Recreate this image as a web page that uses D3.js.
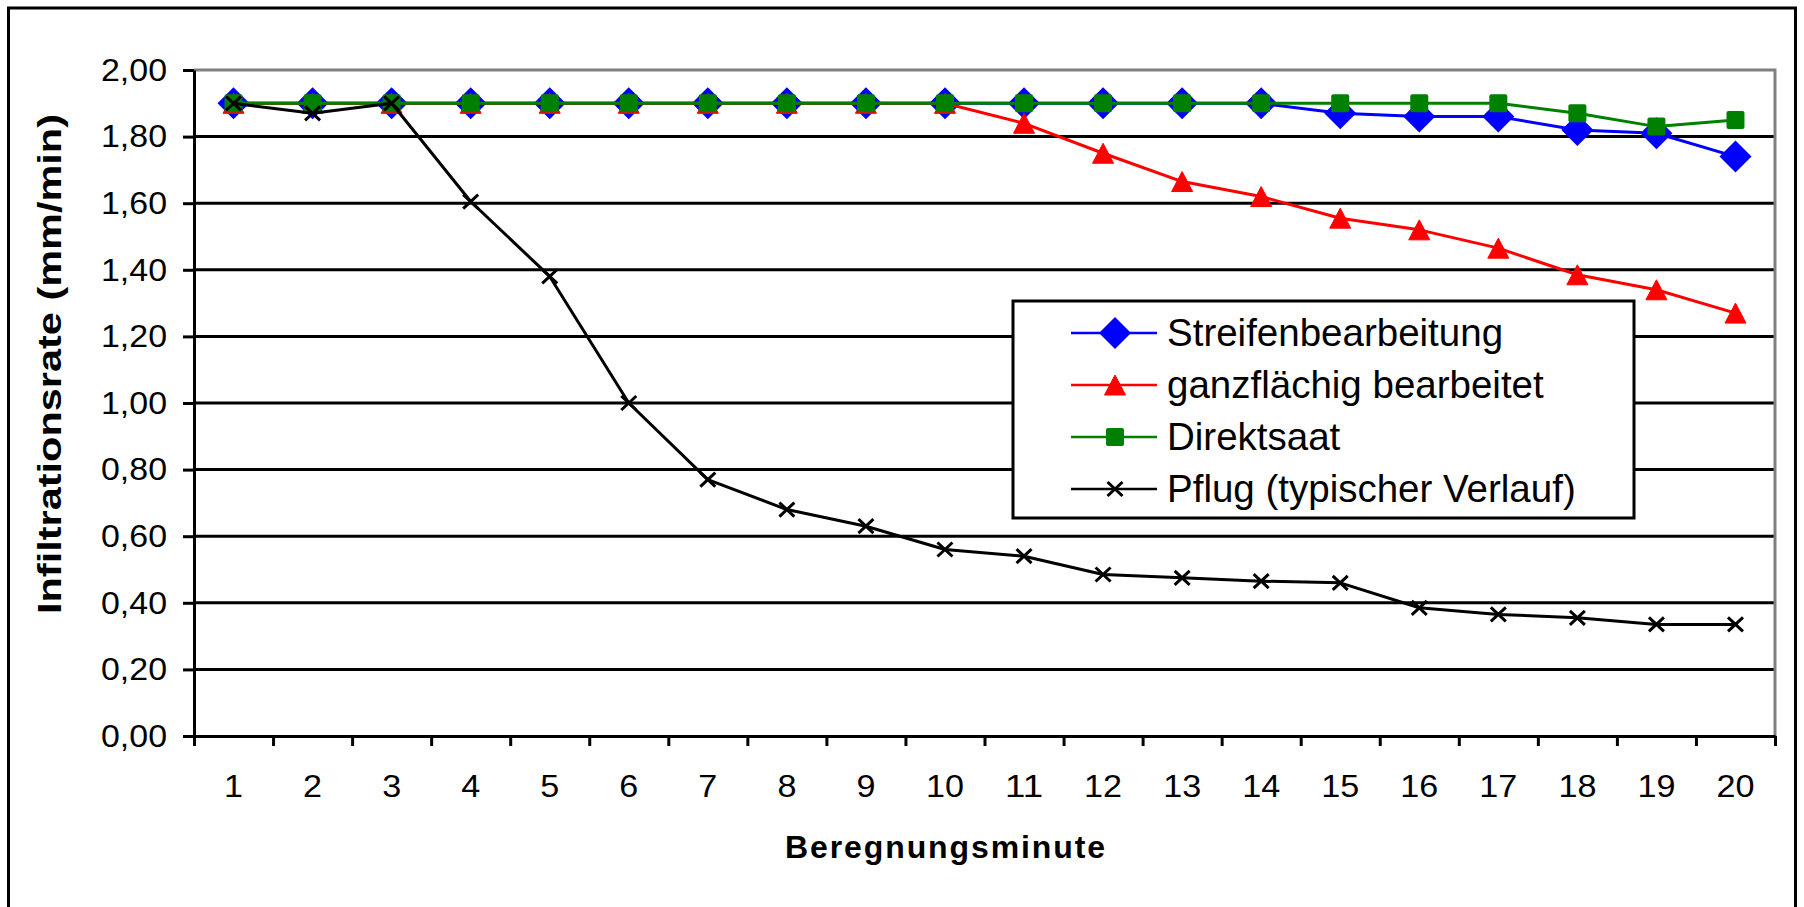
<!DOCTYPE html>
<html>
<head>
<meta charset="utf-8">
<script src="https://cdn.jsdelivr.net/npm/d3@7"></script>
<style>
    body { margin: 0; background: #fff; }
    svg { display: block; font-family: "Liberation Sans", Arial, sans-serif; }
</style>
</head>
<body>
<svg id="chart" width="1804" height="907" viewBox="0 0 1804 907"></svg>
<script>
// Data
const minutes = [1, 2, 3, 4, 5, 6, 7, 8, 9, 10, 11, 12, 13, 14, 15, 16, 17, 18, 19, 20];
const streifen = [1.90, 1.90, 1.90, 1.90, 1.90, 1.90, 1.90, 1.90, 1.90, 1.90, 1.90, 1.90, 1.90, 1.90, 1.87, 1.86, 1.86, 1.82, 1.81, 1.74];
const ganzflaechig = [1.90, 1.90, 1.90, 1.90, 1.90, 1.90, 1.90, 1.90, 1.90, 1.90, 1.84, 1.75, 1.665, 1.62, 1.555, 1.52, 1.465, 1.385, 1.34, 1.27];
const direktsaat = [1.90, 1.90, 1.90, 1.90, 1.90, 1.90, 1.90, 1.90, 1.90, 1.90, 1.90, 1.90, 1.90, 1.90, 1.90, 1.90, 1.90, 1.87, 1.83, 1.85];
const pflug = [1.90, 1.87, 1.90, 1.605, 1.38, 1.00, 0.77, 0.68, 0.63, 0.56, 0.54, 0.485, 0.475, 0.465, 0.46, 0.385, 0.365, 0.355, 0.335, 0.335];
const seriesNames = ["Streifenbearbeitung", "ganzflächig bearbeitet", "Direktsaat", "Pflug (typischer Verlauf)"];
const yTicks = [0, 0.2, 0.4, 0.6, 0.8, 1.0, 1.2, 1.4, 1.6, 1.8, 2.0];

const series = [
    { name: seriesNames[0], values: streifen, color: "#0000ff", marker: "diamond" },
    { name: seriesNames[1], values: ganzflaechig, color: "#ff0000", marker: "triangle" },
    { name: seriesNames[2], values: direktsaat, color: "#008000", marker: "square" },
    { name: seriesNames[3], values: pflug, color: "#000000", marker: "cross" }
];

const svg = d3.select("#chart");
const font = 32;

// Plot area
const plotLeft = 194, plotRight = 1775, plotTop = 70, plotBottom = 736;

const x = d3.scaleLinear().domain([0.5, 20.5]).range([plotLeft, plotRight]);
const y = d3.scaleLinear().domain([0, 2]).range([plotBottom, plotTop]);

// Outer frame
svg.append("rect")
    .attr("x", 8.5).attr("y", 8).attr("width", 1787).attr("height", 930)
    .attr("fill", "white").attr("stroke", "black").attr("stroke-width", 3);

// Grid lines
svg.append("g").selectAll("line")
    .data(yTicks.filter(d => d > 0 && d < 2))
    .enter().append("line")
    .attr("x1", plotLeft).attr("x2", plotRight)
    .attr("y1", d => y(d)).attr("y2", d => y(d))
    .attr("stroke", "black").attr("stroke-width", 3);

// Plot area border (top + right, grey)
svg.append("path")
    .attr("d", "M" + plotLeft + "," + y(2) + "H" + plotRight + "V" + y(0))
    .attr("fill", "none").attr("stroke", "#808080").attr("stroke-width", 3);

// Y axis
const yAxis = svg.append("g")
    .attr("transform", "translate(" + plotLeft + ",0)")
    .call(d3.axisLeft(y).tickValues(yTicks).tickSize(11).tickSizeOuter(0).tickPadding(16)
        .tickFormat(d => d.toFixed(2).replace(".", ",")));
yAxis.selectAll("line, path").attr("stroke", "black").attr("stroke-width", 3);
yAxis.selectAll("text").attr("font-size", font).attr("fill", "black")
    .attr("font-family", "Liberation Sans, Arial, sans-serif")
    .attr("textLength", 66).attr("lengthAdjust", "spacingAndGlyphs");

// X axis (ticks between categories)
const xAxis = svg.append("g")
    .attr("transform", "translate(0," + plotBottom + ")")
    .call(d3.axisBottom(x).tickValues(d3.range(0.5, 21, 1)).tickSize(10).tickSizeOuter(0).tickFormat(""));
xAxis.selectAll("line, path").attr("stroke", "black").attr("stroke-width", 3);

svg.append("g").selectAll("text")
    .data(minutes)
    .enter().append("text")
    .attr("x", d => x(d)).attr("y", 797)
    .attr("text-anchor", "middle")
    .attr("font-size", font)
    .attr("textLength", d => String(d).length * 19)
    .attr("lengthAdjust", "spacingAndGlyphs")
    .text(d => d);

// Axis titles
svg.append("text")
    .attr("x", 946).attr("y", 858)
    .attr("text-anchor", "middle")
    .attr("font-size", 32).attr("font-weight", "bold")
    .attr("letter-spacing", 1.9)
    .text("Beregnungsminute");

svg.append("text")
    .attr("transform", "translate(61,364) rotate(-90)")
    .attr("text-anchor", "middle")
    .attr("font-size", 33).attr("font-weight", "bold")
    .attr("textLength", 500).attr("lengthAdjust", "spacingAndGlyphs")
    .text("Infiltrationsrate (mm/min)");

// Markers
function drawMarker(g, type, color, cx, cy) {
    switch (type) {
        case "diamond":
            g.append("path")
                .attr("d", "M" + cx + "," + (cy - 16) + "L" + (cx + 16) + "," + cy + "L" + cx + "," + (cy + 16) + "L" + (cx - 16) + "," + cy + "Z")
                .attr("fill", color);
            break;
        case "triangle":
            g.append("path")
                .attr("d", "M" + cx + "," + (cy - 10) + "L" + (cx + 10.5) + "," + (cy + 10) + "L" + (cx - 10.5) + "," + (cy + 10) + "Z")
                .attr("fill", color).attr("stroke", color).attr("stroke-width", 1).attr("stroke-linejoin", "round");
            break;
        case "square":
            g.append("rect")
                .attr("x", cx - 9).attr("y", cy - 9).attr("width", 18).attr("height", 18).attr("rx", 2)
                .attr("fill", color);
            break;
        case "cross":
            g.append("path")
                .attr("d", "M" + (cx - 7.5) + "," + (cy - 7) + "L" + (cx + 7.5) + "," + (cy + 7) + "M" + (cx + 7.5) + "," + (cy - 7) + "L" + (cx - 7.5) + "," + (cy + 7))
                .attr("stroke", color).attr("stroke-width", 3);
            break;
    }
}

// Series
const line = d3.line().x((d, i) => x(minutes[i])).y(d => y(d));
series.forEach(s => {
    const g = svg.append("g");
    g.append("path")
        .attr("d", line(s.values))
        .attr("fill", "none").attr("stroke", s.color).attr("stroke-width", 3)
        .attr("stroke-linejoin", "round");
    s.values.forEach((v, i) => drawMarker(g, s.marker, s.color, x(minutes[i]), y(v)));
});

// Legend
const legend = svg.append("g");
legend.append("rect")
    .attr("x", 1013).attr("y", 301).attr("width", 621).attr("height", 217)
    .attr("fill", "white").attr("stroke", "black").attr("stroke-width", 3);

const rowY = [333, 385, 437, 489];
series.forEach((s, i) => {
    legend.append("line")
        .attr("x1", 1071).attr("x2", 1157)
        .attr("y1", rowY[i]).attr("y2", rowY[i])
        .attr("stroke", s.color).attr("stroke-width", 2.5);
    drawMarker(legend, s.marker, s.color, 1115, rowY[i]);
    legend.append("text")
        .attr("x", 1167).attr("y", rowY[i] + 13)
        .attr("font-size", 38.5)
        .text(s.name);
});
</script>
</body>
</html>
